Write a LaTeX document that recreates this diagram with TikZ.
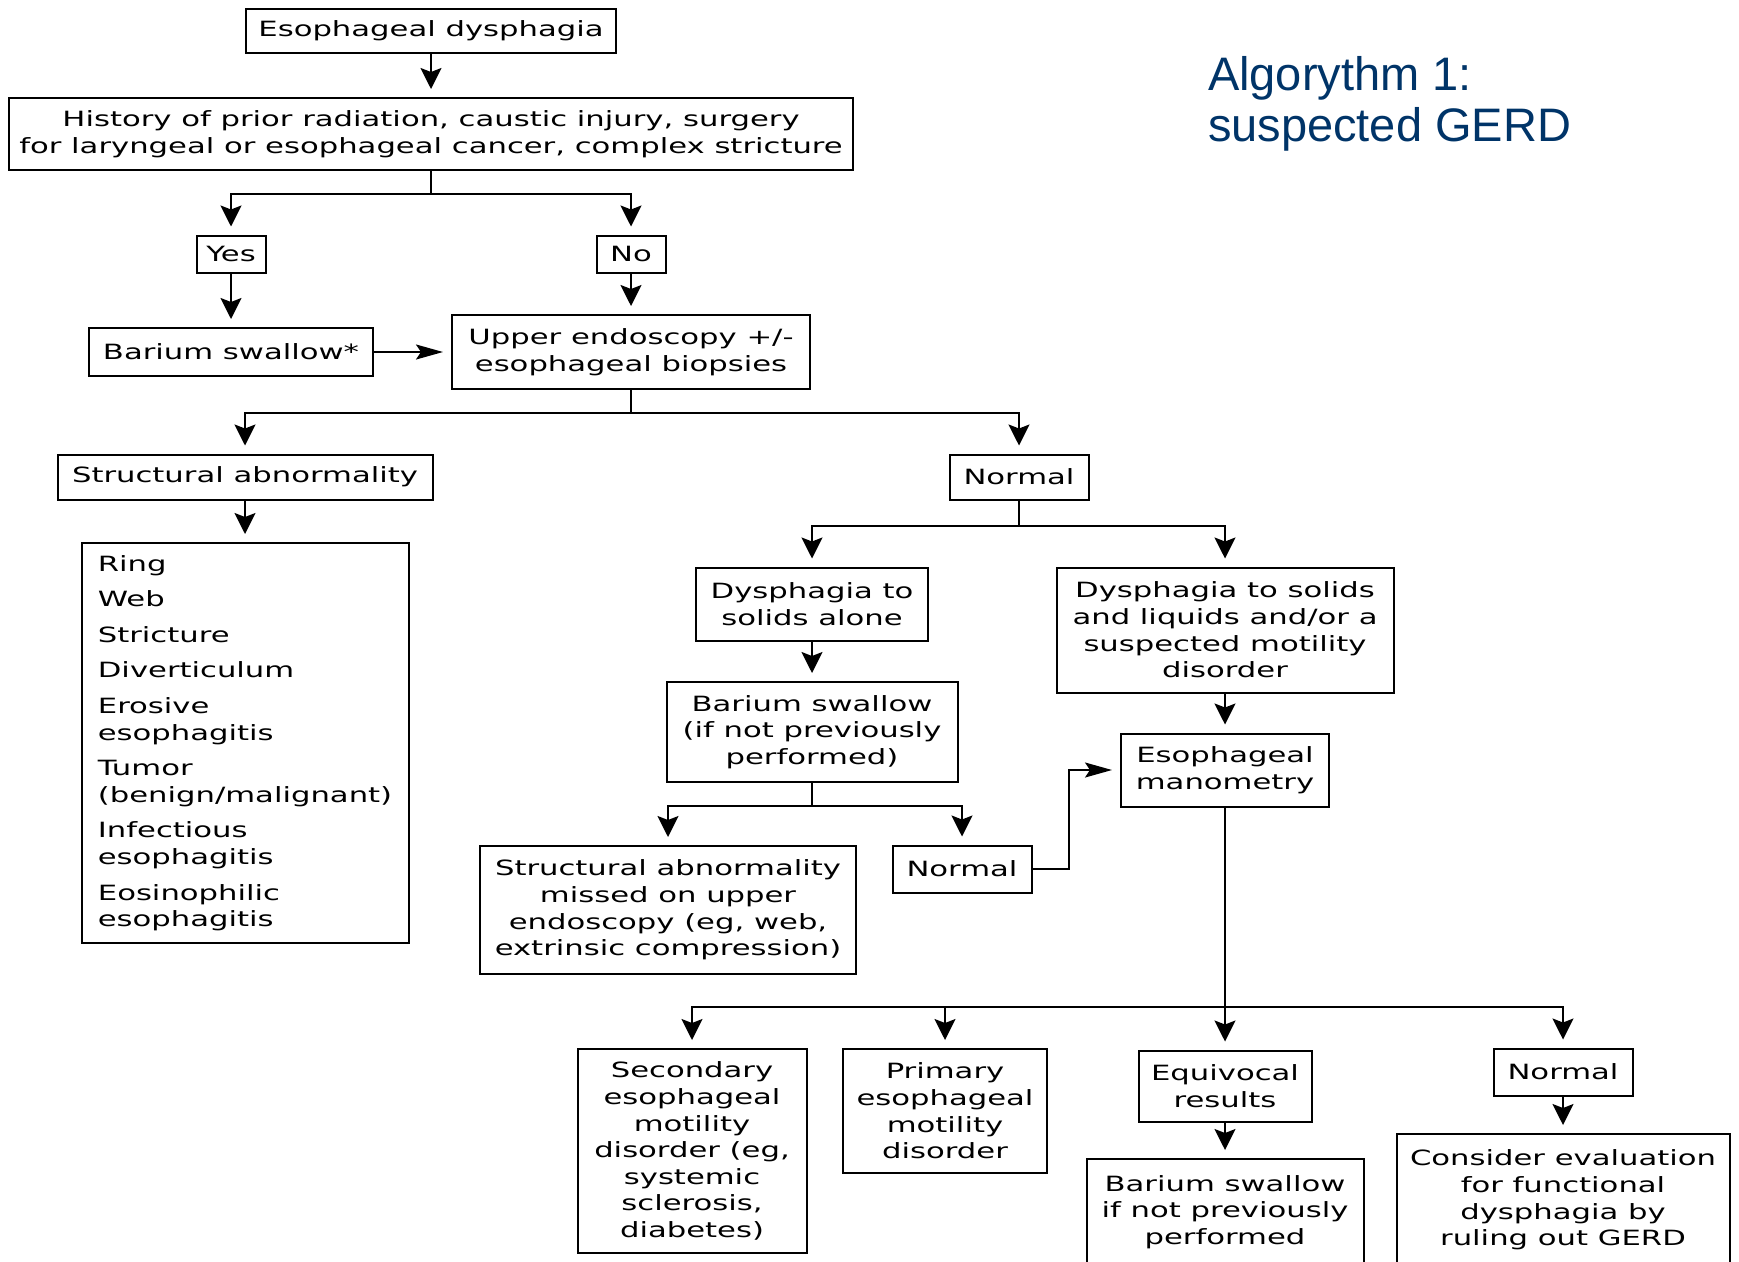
\documentclass[tikz,border=0pt]{standalone}
\usepackage{fontspec}
\usepackage{tikz}
\usetikzlibrary{arrows.meta}
\newfontfamily\flowfont[FakeStretch=1.46]{DejaVu Sans}
\newfontfamily\titlefont{Liberation Sans}
\definecolor{titleblue}{RGB}{0,52,104}

\begin{document}
\begin{tikzpicture}[x=1pt, y=-1pt, line width=2pt,
  box/.style={draw, align=center, inner sep=0pt, font=\flowfont\fontsize{21pt}{26.6pt}\selectfont},
  arr/.style={-{Stealth[length=21pt,width=21pt,inset=4pt]}, shorten >=8pt},
  harr/.style={-{Stealth[length=27pt,width=15pt,inset=5pt]}, shorten >=8pt}]
\useasboundingbox (0,0) rectangle (1739,1261);

\node [box, minimum width=370pt, minimum height=44pt] (esoph_dys) at (431,31) {Esophageal dysphagia};
\node [box, minimum width=844pt, minimum height=72pt] (hist) at (431,134)
  {History of prior radiation, caustic injury, surgery\\for laryngeal or esophageal cancer, complex stricture};
\node [box, minimum width=69pt, minimum height=37pt] (yes) at (231,254) {Yes};
\node [box, minimum width=69pt, minimum height=37pt] (no) at (631,254) {No};
\node [box, minimum width=284pt, minimum height=48pt] (barium_top) at (231,352) {Barium swallow*};
\node [box, minimum width=358pt, minimum height=74pt] (endo) at (631,352) {Upper endoscopy +/-\\esophageal biopsies};
\node [box, minimum width=375pt, minimum height=45pt] (struct) at (245,477) {Structural abnormality};
\node [box, align=left, minimum width=327pt, minimum height=400pt] (struct_list) at (245,743)
  {Ring\\[9pt]Web\\[9pt]Stricture\\[9pt]Diverticulum\\[9pt]Erosive\\esophagitis\\[9pt]Tumor\\(benign/malignant)\\[9pt]Infectious\\esophagitis\\[9pt]Eosinophilic\\esophagitis};
\node [box, minimum width=139pt, minimum height=45pt] (normal_a) at (1019,477) {Normal};
\node [box, minimum width=232pt, minimum height=73pt] (solids) at (812,604) {Dysphagia to\\solids alone};
\node [box, minimum width=337pt, minimum height=125pt] (liquids) at (1225,630)
  {Dysphagia to solids\\and liquids and/or a\\suspected motility\\disorder};
\node [box, minimum width=291pt, minimum height=100pt] (barium_mid) at (812,732)
  {Barium swallow\\(if not previously\\performed)};
\node [box, minimum width=208pt, minimum height=73pt] (mano) at (1225,770) {Esophageal\\manometry};
\node [box, minimum width=376pt, minimum height=128pt] (struct_missed) at (668,910)
  {Structural abnormality\\missed on upper\\endoscopy (eg, web,\\extrinsic compression)};
\node [box, minimum width=139pt, minimum height=47pt] (normal_b) at (962,869) {Normal};
\node [box, minimum width=229pt, minimum height=204pt] (secondary) at (692,1151)
  {Secondary\\esophageal\\motility\\disorder (eg,\\systemic\\sclerosis,\\diabetes)};
\node [box, minimum width=204pt, minimum height=124pt] (primary) at (945,1111)
  {Primary\\esophageal\\motility\\disorder};
\node [box, minimum width=173pt, minimum height=71pt] (equiv) at (1225,1086) {Equivocal\\results};
\node [box, minimum width=277pt, minimum height=106pt] (barium_low) at (1225,1212)
  {Barium swallow\\if not previously\\performed};
\node [box, minimum width=139pt, minimum height=47pt] (normal_c) at (1563,1072) {Normal};
\node [box, minimum width=333pt, minimum height=132pt] (functional) at (1563,1200)
  {Consider evaluation\\for functional\\dysphagia by\\ruling out GERD};

\node [anchor=north west, inner sep=0pt, align=left, text=titleblue,
  font=\titlefont\fontsize{47pt}{51pt}\selectfont] (title) at (1207,55)
  {Algorythm 1:\\suspected GERD};

\coordinate (hist_split) at (431,194);
\coordinate (endo_split) at (631,413);
\coordinate (normal_a_split) at (1019,526);
\coordinate (barium_mid_split) at (812,806);
\coordinate (mano_split) at (1225,1007);

\draw [arr] (esoph_dys) -- (hist);
\draw (hist.south) -- (hist_split);
\draw [arr] (hist_split) -| (yes.north);
\draw [arr] (hist_split) -| (no.north);
\draw [arr] (yes) -- (barium_top);
\draw [arr] (no) -- (endo);
\draw [harr] (barium_top) -- (endo);
\draw (endo.south) -- (endo_split);
\draw [arr] (endo_split) -| (struct.north);
\draw [arr] (endo_split) -| (normal_a.north);
\draw [arr] (struct) -- (struct_list);
\draw (normal_a.south) -- (normal_a_split);
\draw [arr] (normal_a_split) -| (solids.north);
\draw [arr] (normal_a_split) -| (liquids.north);
\draw [arr] (solids) -- (barium_mid);
\draw [arr] (liquids) -- (mano);
\draw (barium_mid.south) -- (barium_mid_split);
\draw [arr] (barium_mid_split) -| (struct_missed.north);
\draw [arr] (barium_mid_split) -| (normal_b.north);
\draw [harr] (normal_b.east) -- ++(36,0) |- (mano.west);
\draw (mano.south) -- (mano_split);
\draw [arr] (mano_split) -| (secondary.north);
\draw [arr] (mano_split) -| (primary.north);
\draw [arr] (mano_split) -- (equiv.north);
\draw [arr] (mano_split) -| (normal_c.north);
\draw [arr] (equiv) -- (barium_low);
\draw [arr] (normal_c) -- (functional);
\end{tikzpicture}
\end{document}
